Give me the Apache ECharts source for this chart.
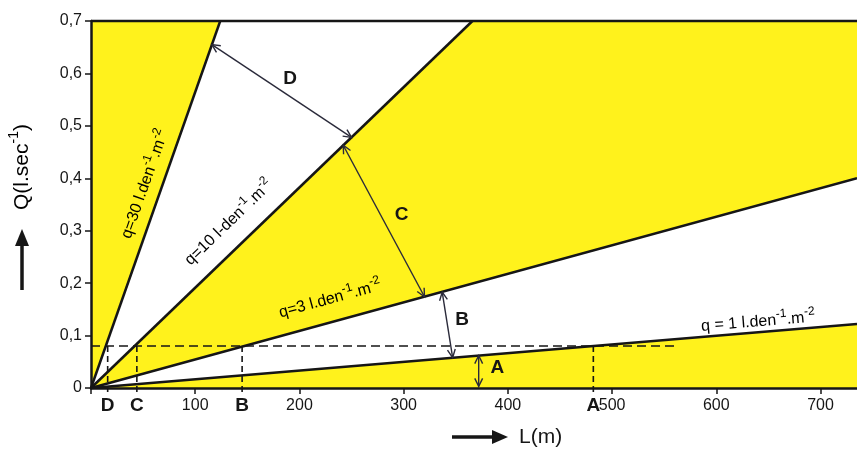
<!DOCTYPE html>
<html>
<head>
<meta charset="utf-8">
<script src="https://cdn.jsdelivr.net/npm/echarts@6/dist/echarts.min.js"></script>
<style>html,body{margin:0;padding:0;background:#fff}#c{width:857px;height:450px}</style>
</head>
<body>
<div id="c"></div>
<script>
// ---- data ----
const xMin = 0, xMax = 735, xStep = 100;
const yMin = 0, yMax = 0.7, yStep = 0.1;
// [main text, sup1, middle, sup2]
const lineNames = [
  ['q=30 l.den', '-1', '.m', '-2'],
  ['q=10 l-den', '-1', '.m', '-2'],
  ['q=3 l.den', '-1', '.m', '-2'],
  ['q = 1 l.den', '-1', '.m', '-2']
];
const lineEnds = [[124, 0.7], [366, 0.7], [735, 0.40], [735, 0.122]];
const lineLabelPos = [[50, 0.39], [131, 0.318], [229, 0.173], [640, 0.13]];
const refQ = 0.08;
const refLetters = ['D', 'C', 'B', 'A'];
const refL = [16, 44, 145, 482];
const dashEndL = 563;
const gapNames = ['D', 'C', 'B', 'A'];
const gapFrom = [[116, 0.655], [242, 0.463], [337, 0.183], [372, 0.062]];
const gapTo = [[250, 0.478], [320, 0.174], [347, 0.058], [372, 0.003]];
const gapLabelPos = [[191, 0.59], [298, 0.33], [356, 0.13], [390, 0.038]];

const YEL = '#fff21c';
const INK = '#161616';
const FF = '"Liberation Sans", Arial, sans-serif';

const richSup = (base, sup) => ({
  a: { fontSize: base, fontFamily: FF, color: INK, lineHeight: base + 4, verticalAlign: 'bottom' },
  s: { fontSize: sup, fontFamily: FF, color: INK, lineHeight: base + 4, verticalAlign: 'top' }
});

function arrowHead(p, q, len) {
  const a = Math.atan2(p[1] - q[1], p[0] - q[0]);
  const s = 0.45;
  return [
    [p[0] - len * Math.cos(a - s), p[1] - len * Math.sin(a - s)],
    [p[0], p[1]],
    [p[0] - len * Math.cos(a + s), p[1] - len * Math.sin(a + s)]
  ];
}

function render(params, api) {
  const C = (v) => api.coord(v);
  const o = C([0, 0]);
  const ch = [];
  const q30 = C(lineEnds[0]), q10 = C(lineEnds[1]), q3 = C(lineEnds[2]), q1 = C(lineEnds[3]);
  const tl = C([0, yMax]), br = C([xMax, 0]), tr = C([xMax, yMax]);
  ch.push({ type: 'polygon', shape: { points: [o, br, q1] }, style: { fill: YEL } });
  ch.push({ type: 'polygon', shape: { points: [o, q3, tr, q10] }, style: { fill: YEL } });
  ch.push({ type: 'polygon', shape: { points: [o, q30, tl] }, style: { fill: YEL } });
  ch.push({ type: 'line', shape: { x1: tl[0], y1: tl[1], x2: tr[0], y2: tr[1] }, style: { stroke: INK, lineWidth: 2.5 } });
  const dl = C([0, refQ]), dr = C([dashEndL, refQ]);
  ch.push({ type: 'line', shape: { x1: dl[0], y1: dl[1], x2: dr[0], y2: dr[1] }, style: { stroke: INK, lineWidth: 1.6, lineDash: [9, 5] } });
  refL.forEach((L, i) => {
    const a = C([L, refQ]), b = C([L, 0]);
    ch.push({ type: 'line', shape: { x1: a[0], y1: a[1], x2: b[0], y2: b[1] + 6 }, style: { stroke: INK, lineWidth: 1.6, lineDash: [6, 4] } });
    ch.push({ type: 'text', x: b[0], y: b[1] + 8, style: { text: refLetters[i], font: 'bold 19px ' + FF, fill: INK, align: 'center', verticalAlign: 'top' } });
  });
  lineEnds.forEach((e, i) => {
    const p = C(e);
    ch.push({ type: 'line', shape: { x1: o[0], y1: o[1], x2: p[0], y2: p[1] }, style: { stroke: INK, lineWidth: 2.5 } });
    const ang = Math.atan2(o[1] - p[1], p[0] - o[0]);
    const lp = C(lineLabelPos[i]);
    const n = lineNames[i];
    ch.push({ type: 'text', x: lp[0], y: lp[1], rotation: ang, style: {
      text: '{a|' + n[0] + '}{s|' + n[1] + '}{a|' + n[2] + '}{s|' + n[3] + '}',
      rich: richSup(16, 12), align: 'center', verticalAlign: 'middle' } });
  });
  gapFrom.forEach((f, i) => {
    const a = C(f), b = C(gapTo[i]);
    ch.push({ type: 'line', shape: { x1: a[0], y1: a[1], x2: b[0], y2: b[1] }, style: { stroke: '#2a2a3a', lineWidth: 1.4 } });
    ch.push({ type: 'polyline', shape: { points: arrowHead(a, b, 9) }, style: { stroke: '#2a2a3a', lineWidth: 1.4, fill: null } });
    ch.push({ type: 'polyline', shape: { points: arrowHead(b, a, 9) }, style: { stroke: '#2a2a3a', lineWidth: 1.4, fill: null } });
    const lp = C(gapLabelPos[i]);
    ch.push({ type: 'text', x: lp[0], y: lp[1], style: { text: gapNames[i], font: 'bold 19px ' + FF, fill: INK, align: 'center', verticalAlign: 'middle' } });
  });
  return { type: 'group', children: ch };
}

const chart = echarts.init(document.getElementById('c'), null, { renderer: 'canvas' });
chart.setOption({
  animation: false,
  backgroundColor: '#fff',
  grid: { left: 91, right: 0, top: 21, bottom: 62, containLabel: false, outerBoundsMode: 'none' },
  xAxis: {
    type: 'value', min: xMin, max: xMax, interval: xStep, z: 10,
    axisLine: { onZero: false, lineStyle: { color: INK, width: 2.5 } },
    axisTick: { show: true, length: 6, lineStyle: { color: INK, width: 1.5 } },
    axisLabel: { margin: 10, fontSize: 16, color: INK, fontFamily: FF,
      showMaxLabel: false, formatter: v => (v === 0 || v === xMax) ? '' : String(v) },
    splitLine: { show: false }
  },
  yAxis: {
    type: 'value', min: yMin, max: yMax, interval: yStep, z: 10,
    axisLine: { show: true, lineStyle: { color: INK, width: 2.5 } },
    axisTick: { show: true, length: 6, lineStyle: { color: INK, width: 1.5 } },
    axisLabel: { margin: 9, fontSize: 16, color: INK, fontFamily: FF,
      formatter: v => v === 0 ? '0' : v.toFixed(1).replace('.', ',') },
    splitLine: { show: false }
  },
  series: [{
    type: 'custom', renderItem: render, data: [[0, 0]], clip: false, silent: true, z: 1
  }],
  graphic: [
    { type: 'text', x: 20, y: 167, rotation: Math.PI / 2, style: { text: '{a|Q(l.sec}{s|-1}{a|)}', rich: richSup(21, 14), align: 'center', verticalAlign: 'middle' } },
    { type: 'line', shape: { x1: 22, y1: 290, x2: 22, y2: 244 }, style: { stroke: INK, lineWidth: 3.5 } },
    { type: 'polygon', shape: { points: [[15, 246], [29, 246], [22, 229]] }, style: { fill: INK } },
    { type: 'line', shape: { x1: 452, y1: 437, x2: 494, y2: 437 }, style: { stroke: INK, lineWidth: 3.5 } },
    { type: 'polygon', shape: { points: [[492, 430], [492, 444], [508, 437]] }, style: { fill: INK } },
    { type: 'text', x: 519, y: 437, style: { text: 'L(m)', font: '21px ' + FF, fill: INK, align: 'left', verticalAlign: 'middle' } }
  ]
});
</script>
</body>
</html>
